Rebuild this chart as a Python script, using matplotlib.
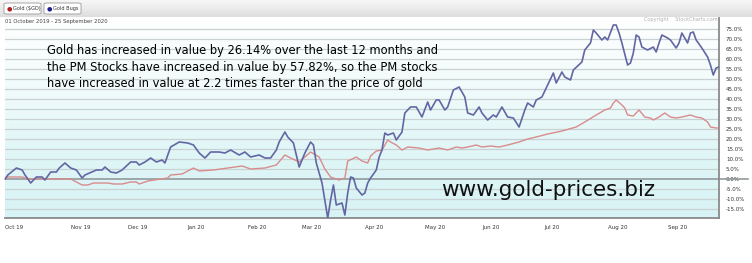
import numpy as np
import matplotlib
matplotlib.use("Agg")
import matplotlib.pyplot as plt
from matplotlib.patches import FancyBboxPatch
from matplotlib.colors import LinearSegmentedColormap

# ---- data (x = trading-day index from 01 Oct 2019) ----
bugs_day = [0, 1, 4, 6, 7, 9, 11, 13, 14, 16, 18, 19, 21, 23, 25, 27, 28, 32, 34, 35,
            37, 39, 41, 44, 46, 47, 49, 51, 53, 55, 56, 58, 61, 64, 66, 68, 70, 72, 75, 77,
            79, 82, 84, 86, 89, 91, 93, 95, 96, 98, 99, 101, 103, 105, 107, 108, 109, 111, 113, 114,
            115, 116, 118, 119, 120, 121, 122, 123, 125, 126, 127, 128, 130, 131, 132, 133, 134, 136, 137, 139,
            140, 142, 144, 146, 148, 149, 151, 152, 154, 155, 157, 159, 161, 162, 164, 166, 167, 169, 171, 172,
            174, 175, 176, 178, 180, 182, 183, 185, 186, 188, 190, 192, 193, 195, 196, 198, 199, 202, 203, 205,
            206, 207, 209, 210, 211, 213, 214, 215, 216, 218, 219, 220, 221, 222, 223, 225, 227, 228, 229, 230,
            232, 233, 235, 236, 237, 239, 240, 241, 242, 244, 246, 247, 248, 249, 250]
bugs_val = [0, 2, 5.5, 4.5, 2, -2, 1, 1, -0.5, 3.5, 3.5, 5.5, 8, 5.5, 4.5, 0.5, 2, 4.5, 4.5, 6,
            3.5, 3, 4.5, 8.5, 8.5, 7, 8.5, 10.5, 8.5, 9.5, 8, 16, 18.5, 18, 17, 13, 10.5, 13.5, 13.5, 13,
            14.5, 12, 13.5, 11, 12, 10.5, 10.5, 14.5, 18.5, 23.5, 21, 18, 6, 13, 18.5, 17, 8, -2, -19.5, -10.5,
            -3, -13, -12, -18, -7, 1, 0.5, -4.5, -8, -7, -2, 0.5, 4.5, 11, 14.5, 23, 22, 23, 19.5, 23.5,
            33, 36, 36, 31, 38.5, 34.5, 39.5, 39.5, 34.5, 36, 44.5, 46, 41, 33, 32, 36, 33, 29.5, 32, 31,
            36, 33.5, 31, 30.5, 26, 34.5, 38, 36, 39.5, 41, 47, 53, 48, 53.5, 51, 49.5, 54.5, 58.5, 64.5, 68,
            74.5, 73, 69.5, 71, 69.5, 77, 77, 73, 68, 57, 58, 63, 72, 71, 66, 64.5, 66, 63.5, 68, 72,
            70.5, 69.5, 65.5, 68, 73, 68, 73, 73.5, 69.5, 65.5, 61, 57, 52, 55.5, 56]

gold_day = [0, 1, 3, 6, 8, 15, 19, 23, 27, 29, 31, 36, 38, 41, 44, 46, 47, 50, 57, 58,
            62, 66, 68, 73, 78, 83, 86, 91, 95, 98, 100, 103, 105, 107, 110, 112, 114, 117, 119, 120,
            123, 125, 127, 128, 130, 132, 134, 135, 137, 139, 141, 145, 148, 152, 155, 158, 160, 162, 165, 167,
            170, 173, 176, 180, 183, 186, 190, 195, 200, 203, 207, 210, 212, 213, 214, 216, 217, 218, 220, 221,
            222, 224, 226, 227, 229, 231, 233, 235, 237, 240, 242, 244, 246, 247, 249, 250]
gold_val = [0, 1, 1, 1, 0, 0, 0, 0, -3, -3, -2, -2, -2.5, -2.5, -1.5, -1.5, -2.5, -1, 0.5, 2,
            2.5, 5.5, 4, 4.5, 5.5, 6.5, 5, 5.5, 7, 12, 10.5, 8.5, 11, 13.5, 11, 5, 1, -0.5, 0.5, 9,
            11, 9, 8, 11.5, 14, 14.5, 19.5, 18.5, 17, 14.5, 16, 15.5, 14.5, 15.5, 14.5, 16, 15.5, 16, 17, 16,
            16.5, 16, 17, 18.5, 20, 21, 22.5, 24, 26, 28.5, 32, 34.5, 35.5, 38, 39.5, 37, 35.5, 32, 31.5, 33,
            34.5, 31, 30.5, 29.5, 31, 33, 31, 30.5, 31, 32, 31, 30.5, 28.5, 26, 25.5, 25.5]

month_day = [0, 23, 43, 64, 85, 104, 126, 147, 167, 189, 211, 232]
month_lbl = ["Oct 19", "Nov 19", "Dec 19", "Jan 20", "Feb 20", "Mar 20",
             "Apr 20", "May 20", "Jun 20", "Jul 20", "Aug 20", "Sep 20"]
y_ticks = [-15, -10, -5, 0, 5, 10, 15, 20, 25, 30, 35, 40, 45, 50, 55, 60, 65, 70, 75]

W, H = 752, 263
fig = plt.figure(figsize=(W / 100, H / 100), dpi=100)
fig.patch.set_facecolor("white")

# header strip
hdr = LinearSegmentedColormap.from_list("hdr", ["#f7f7f7", "#dedede"])
hax = fig.add_axes([0, 1 - 17 / H, 1, 17 / H])
hax.imshow(np.linspace(0, 1, 50).reshape(-1, 1), aspect="auto", cmap=hdr,
           extent=[0, 1, 0, 1])
hax.set_axis_off()
for (x0, w, c, lbl) in [(4, 37, "#b02020", "Gold ($GD)"), (44, 37, "#202090", "Gold Bugs")]:
    fig.add_artist(FancyBboxPatch((x0 / W, 1 - 14 / H), w / W, 11 / H,
                                  boxstyle="round,pad=0,rounding_size=0.004",
                                  transform=fig.transFigure, facecolor="white",
                                  edgecolor="#9a9a9a", lw=0.6))
    fig.text((x0 + 5) / W, 1 - 8.5 / H, "\u25CF", color=c, fontsize=4.5,
             ha="center", va="center")
    fig.text((x0 + 9) / W, 1 - 8.5 / H, lbl, color="#333333", fontsize=3.6,
             ha="left", va="center")
fig.text(5 / W, 1 - 22 / H, "01 October 2019 - 25 September 2020", fontsize=3.8,
         color="#444444", ha="left", va="center")
fig.text(718 / W, 1 - 20 / H, "Copyright    StockCharts.com", fontsize=3.6,
         color="#b0b0b0", ha="right", va="center")

# main axes: pixels x 5..719, y 18..218
ax = fig.add_axes([5 / W, 45 / H, 714 / W, 200 / H])
bg = LinearSegmentedColormap.from_list("bg", ["#ffffff", "#f2fbfb", "#e0f6f7", "#d8f3f5"])
ax.imshow(np.linspace(0, 1, 100).reshape(-1, 1), aspect="auto", cmap=bg,
          extent=[0, 250, -19.5, 80.5], origin="upper", zorder=0)
ax.set_xlim(0, 250)
ax.set_ylim(-19.5, 80.5)
for yv in y_ticks:
    if yv != 0:
        ax.axhline(yv, color="#c9d1d3", lw=0.9, zorder=1)
ax.plot([0, 1.04], [0, 0], transform=ax.get_yaxis_transform(), color="#8a9294",
        lw=1.1, zorder=2, clip_on=False)

ax.plot(gold_day, gold_val, color="#d98c8c", lw=1.0, zorder=3)
ax.plot(bugs_day, bugs_val, color="#6266a3", lw=1.2, zorder=4)

ax.yaxis.tick_right()
ax.set_yticks(y_ticks)
ax.set_yticklabels([f"{v:.1f}%" for v in y_ticks], fontsize=4, color="#333333")
ax.tick_params(axis="y", length=0, pad=5)
ax.set_xticks(month_day)
ax.set_xticklabels(month_lbl, fontsize=4, color="#333333", ha="left")
ax.tick_params(axis="x", length=0, pad=5)
for s in ["top", "left"]:
    ax.spines[s].set_visible(False)
for s in ["right", "bottom"]:
    ax.spines[s].set_color("#8a8a8a")
    ax.spines[s].set_linewidth(1.3)

ax.text((47 - 5) / 714, (218 - 67) / 200,
        "Gold has increased in value by 26.14% over the last 12 months and\n"
        "the PM Stocks have increased in value by 57.82%, so the PM stocks\n"
        "have increased in value at 2.2 times faster than the price of gold",
        transform=ax.transAxes, fontsize=8.3, color="#000000", ha="left", va="center",
        linespacing=1.32, family="DejaVu Sans", zorder=6)
ax.text((548 - 5) / 714, (218 - 190) / 200, "www.gold-prices.biz",
        transform=ax.transAxes, fontsize=15.5, color="#111111", ha="center", va="center",
        zorder=6)

fig.savefig("out.png", dpi=100)
